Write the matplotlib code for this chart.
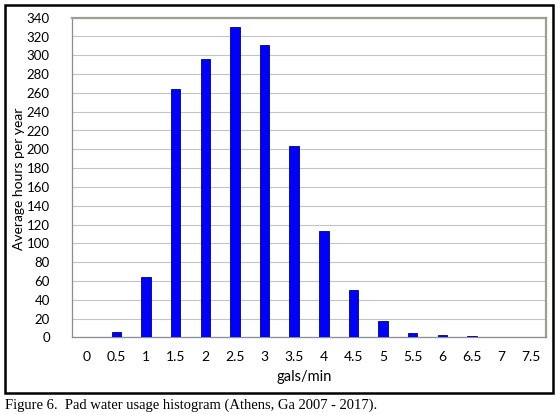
import matplotlib
matplotlib.use("Agg")
import matplotlib.pyplot as plt
from matplotlib.patches import Rectangle

flow_labels = ["0", "0.5", "1", "1.5", "2", "2.5", "3", "3.5", "4", "4.5",
               "5", "5.5", "6", "6.5", "7", "7.5"]
hours = [0, 6, 64, 264, 296, 330, 311, 203, 113, 50, 17, 4.5, 2.5, 1, 0.5, 0.5]
y_ticks = list(range(0, 341, 20))

caption = "Figure 6.  Pad water usage histogram (Athens, Ga 2007 - 2017)."

sans = ["Lato", "DejaVu Sans"]

fig = plt.figure(figsize=(5.6, 4.15), dpi=100)
ax = fig.add_axes([72 / 560, 77.7 / 415, (546 - 72) / 560, (337.3 - 17.7) / 415])

x = range(len(flow_labels))
ax.bar(x, hours, width=0.32, color="#0000ff", edgecolor="#00007a", linewidth=0.6, zorder=3)

ax.set_xlim(-0.5, len(flow_labels) - 0.5)
ax.set_ylim(0, 340)
ax.set_yticks(y_ticks)
ax.set_xticks(list(x))
ax.set_xticklabels(flow_labels)
ax.yaxis.grid(True, color="#c4c4c4", linewidth=0.8, zorder=0)
ax.tick_params(length=0, labelsize=10)
ax.tick_params(axis="y", pad=16, labelsize=9.5)
ax.tick_params(axis="x", pad=10)
for lab in ax.get_xticklabels() + ax.get_yticklabels():
    lab.set_family(sans)

for side in ["top", "right"]:
    ax.spines[side].set_color("#98a094")
    ax.spines[side].set_linewidth(1.6)
for side in ["left", "bottom"]:
    ax.spines[side].set_color("#8a8a9a")
    ax.spines[side].set_linewidth(0.9)

ax.set_ylabel("Average hours per year", family=sans, fontsize=10)
ax.yaxis.set_label_coords(-0.099, 0.495)
ax.set_xlabel("gals/min", family=sans, fontsize=10.5)
ax.xaxis.set_label_coords(0.49, -0.102)

# black frame around the chart
fig.patches.append(Rectangle((5 / 560, 1 - 393 / 415), 548 / 560, 388 / 415,
                             transform=fig.transFigure, fill=False,
                             edgecolor="black", linewidth=1.8))

fig.text(5 / 560, 1 - 405 / 415, caption, family="Liberation Serif",
         fontsize=10.5, va="center", ha="left")

fig.savefig("out.png", dpi=100)
